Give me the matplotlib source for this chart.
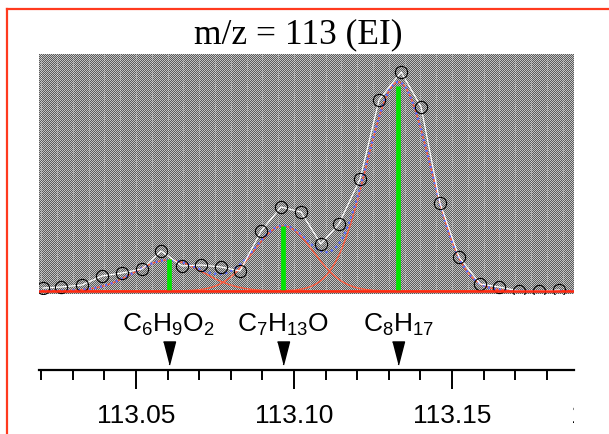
import numpy as np
import matplotlib
matplotlib.use("Agg")
import matplotlib.pyplot as plt
from matplotlib.lines import Line2D
from matplotlib.ticker import MultipleLocator
from matplotlib.transforms import Bbox, TransformedBbox

plt.rcParams['font.family'] = ['Liberation Sans', 'DejaVu Sans']
plt.rcParams['mathtext.default'] = 'regular'

# measured points (mass, intensity)
mass = [113.0206, 113.0263, 113.0329, 113.0392, 113.0456, 113.0519, 113.0579,
        113.0646, 113.0706, 113.0769, 113.0829, 113.0896, 113.0959, 113.1022,
        113.1085, 113.1142, 113.1209, 113.1269, 113.1339, 113.1402, 113.1462,
        113.1522, 113.1589, 113.1649, 113.1712, 113.1775, 113.1839]
intensity = [3, 4, 6, 15, 18, 22, 40, 25, 26, 24, 20, 60, 84, 79, 47, 67, 112,
             191, 219, 184, 88, 34, 7, 4, 0, 0, 1]

# fitted peaks
formulas = [r'C$_6$H$_9$O$_2$', r'C$_7$H$_{13}$O', r'C$_8$H$_{17}$']
centers = [113.0603, 113.0966, 113.1330]
heights = [31, 65, 209]
widths = [0.0108, 0.0095, 0.0100]
stick_heights = [32, 65, 205]

tick_labels = ['113.05', '113.10', '113.15']
clipped_label = '113.20'

W, H = 609, 435
x_lo, x_hi = 113.0193, 113.1886

fig = plt.figure(figsize=(W / 100, H / 100), dpi=100)

# red frame
red = '#ff3a1e'
fig.add_artist(Line2D([7 / W, 7 / W], [0, 1 - 10 / H], color=red, lw=1.6))
fig.add_artist(Line2D([7 / W, 1], [1 - 10 / H, 1 - 10 / H], color=red, lw=1.6))

fig.text(298 / W, 1 - 43 / H, 'm/z = 113 (EI)', family='Liberation Serif',
         fontsize=25.5, ha='center', va='baseline')

# upper panel
ax = fig.add_axes([39 / W, 1 - 295 / H, 535 / W, 240 / H])
ax.set_xlim(x_lo, x_hi)
ax.set_ylim(-3, 237)
ny, nx = 240, 535
checker = np.indices((ny, nx)).sum(axis=0) % 2
ax.imshow(checker, cmap='gray', vmin=-0.9, vmax=1.6, interpolation='nearest',
          extent=[x_lo, x_hi, -3, 237], aspect='auto', zorder=0)
ax.xaxis.set_minor_locator(MultipleLocator(0.005))
ax.grid(which='minor', axis='x', color='white', ls=':', lw=0.6, alpha=0.6)
ax.set_axisbelow(False)
for s in ax.spines.values():
    s.set_visible(False)
ax.tick_params(which='both', length=0, labelbottom=False, labelleft=False)
ax.set_xticks([])
ax.set_yticks([])

xs = np.linspace(x_lo, x_hi, 600)
total = np.zeros_like(xs)
for c, h, w in zip(centers, heights, widths):
    comp = h * np.exp(-(xs - c) ** 2 / (2 * w ** 2))
    total += comp
    ax.plot(xs, comp, color='#ff5a3c', lw=1.0, zorder=2)
ax.plot(xs, total, color='#5a6cff', lw=1.6, ls=(0, (1, 1.5)), zorder=3)
ax.plot(mass, intensity, color='white', lw=0.9, zorder=4)
ax.plot(mass, intensity, 'o', ms=8.8, mfc='none', mec='black', mew=0.8, zorder=5)
ax.vlines(centers, 0, stick_heights, color='#00e600', lw=3.4, zorder=6)
ax.axhline(0, color='#ff2a10', lw=1.8, zorder=7)

# lower mass axis
ax2 = fig.add_axes([39 / W, 1 - 371 / H, 535 / W, 76 / H])
ax2.patch.set_visible(False)
ax2.set_xlim(x_lo, x_hi)
ax2.set_ylim(0, 1)
for side in ['left', 'right', 'top']:
    ax2.spines[side].set_visible(False)
ax2.spines['bottom'].set_linewidth(1.6)
ax2.set_yticks([])
ax2.set_xticks([113.05, 113.10, 113.15])
ax2.set_xticklabels(tick_labels)
ax2.xaxis.set_minor_locator(MultipleLocator(0.01))
ax2.tick_params(axis='x', which='major', direction='out', length=13.7,
                width=1.4, pad=10, labelsize=19)
ax2.tick_params(axis='x', which='minor', direction='out', length=7.2, width=1.4)

lab = ax2.annotate(clipped_label, xy=(113.20, 0), xycoords=('data', 'axes fraction'),
                   xytext=(0, -23.7), textcoords='offset points', ha='center',
                   va='top', fontsize=19, annotation_clip=False)
lab.set_clip_box(TransformedBbox(Bbox([[0, 0], [574 / W, 1]]), fig.transFigure))
lab.set_clip_on(True)

arrow = [(-0.26, 0.5), (0.26, 0.5), (0, -0.5)]
for c, f in zip(centers, formulas):
    ax2.plot([c], [0.23], marker=arrow, ms=16.6, color='black', clip_on=False)
    ax2.text(c, 0.513, f, ha='center', va='baseline', fontsize=19)

fig.savefig('out.png', dpi=100)
